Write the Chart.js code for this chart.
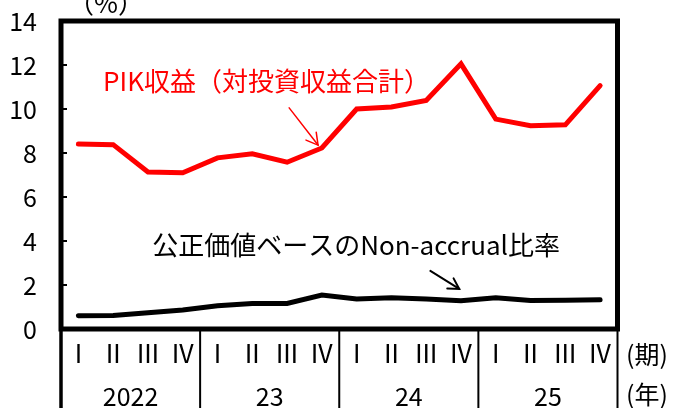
<!DOCTYPE html>
<html><head><meta charset="utf-8">
<script src="https://cdn.jsdelivr.net/npm/chart.js@4/dist/chart.umd.min.js"></script>
<style>html,body{margin:0;padding:0;background:#fff;overflow:hidden}canvas{display:block}</style>
</head><body><canvas id="c" width="674" height="408"></canvas>
<script>
const quarters = ['Ⅰ','Ⅱ','Ⅲ','Ⅳ','Ⅰ','Ⅱ','Ⅲ','Ⅳ','Ⅰ','Ⅱ','Ⅲ','Ⅳ','Ⅰ','Ⅱ','Ⅲ','Ⅳ'];
const years = ['2022','23','24','25'];
const pikRatio = [8.41,8.38,7.14,7.10, 7.78,7.96,7.58,8.23, 10.00,10.09,10.39,12.05, 9.54,9.24,9.28,11.06];
const nonAccrual = [0.60,0.61,0.74,0.86, 1.06,1.16,1.16,1.54, 1.36,1.42,1.36,1.28, 1.42,1.30,1.31,1.33];
const yTicks = [0,2,4,6,8,10,12,14];
const pikLabel = 'PIK収益（対投資収益合計）';
const naLabel = '公正価値ベースのNon-accrual比率';
const unitY = '（%）';
const unitQ = '(期)';
const unitYear = '(年)';

const FONT = "'Noto Sans CJK JP', 'Noto Sans', sans-serif";
const W = 674, H = 408;
const AREA = {left:61, right:617.5, top:21, bottom:329};

function arrow(ctx, x1, y1, x2, y2, color, lw, head) {
  ctx.save();
  ctx.strokeStyle = color; ctx.lineWidth = lw; ctx.lineCap = 'round';
  ctx.beginPath(); ctx.moveTo(x1, y1); ctx.lineTo(x2, y2); ctx.stroke();
  const a = Math.atan2(y2 - y1, x2 - x1);
  const s = 0.52;
  ctx.beginPath();
  ctx.moveTo(x2 - head * Math.cos(a - s), y2 - head * Math.sin(a - s));
  ctx.lineTo(x2, y2);
  ctx.lineTo(x2 - head * Math.cos(a + s), y2 - head * Math.sin(a + s));
  ctx.stroke();
  ctx.restore();
}

const deco = {
  id: 'deco',
  afterDraw(chart) {
    const ctx = chart.ctx, xs = chart.scales.x, ys = chart.scales.y, ca = chart.chartArea;
    ctx.save();
    ctx.strokeStyle = '#000'; ctx.lineWidth = 2;
    yTicks.forEach(v => {
      const y = ys.getPixelForValue(v);
      ctx.beginPath(); ctx.moveTo(ca.left, y); ctx.lineTo(ca.left + 6, y); ctx.stroke();
    });
    for (let i = 0; i <= years.length; i++) {
      const x = xs.getPixelForValue(i * 4 - 0.5);
      ctx.lineWidth = i === 0 ? 3.5 : 2;
      ctx.beginPath(); ctx.moveTo(x, ca.bottom); ctx.lineTo(x, H); ctx.stroke();
    }
    ctx.lineWidth = 5;
    ctx.strokeRect(ca.left, ca.top, ca.right - ca.left, ca.bottom - ca.top);
    ctx.fillStyle = '#000';
    ctx.font = '25px ' + FONT;
    ctx.textAlign = 'center'; ctx.textBaseline = 'middle';
    years.forEach((yr, i) => {
      const x = (xs.getPixelForValue(i * 4) + xs.getPixelForValue(i * 4 + 3)) / 2;
      ctx.fillText(yr, x, 396);
    });
    ctx.fillText(unitQ, 647, 354);
    ctx.fillText(unitYear, 647, 394);
    ctx.font = '26px ' + FONT;
    ctx.fillText(unitY, 106, 3);
    ctx.textAlign = 'left';
    ctx.font = '26px ' + FONT;
    ctx.fillStyle = '#ff0000';
    ctx.fillText(pikLabel, xs.getPixelForValue(0.71), ys.getPixelForValue(11.27));
    ctx.fillStyle = '#000';
    ctx.fillText(naLabel, xs.getPixelForValue(2.12), ys.getPixelForValue(3.82));
    arrow(ctx, xs.getPixelForValue(6.06), ys.getPixelForValue(10.05), xs.getPixelForValue(6.89), ys.getPixelForValue(8.36), '#ff0000', 1.5, 13);
    arrow(ctx, xs.getPixelForValue(10.12), ys.getPixelForValue(2.64), xs.getPixelForValue(10.95), ys.getPixelForValue(1.82), '#000', 2, 12);
    ctx.restore();
  }
};

new Chart(document.getElementById('c'), {
  type: 'line',
  data: {
    labels: quarters,
    datasets: [
      {data: pikRatio, borderColor: '#ff0000', borderWidth: 5, pointRadius: 0, tension: 0, borderJoinStyle: 'miter', borderCapStyle: 'round'},
      {data: nonAccrual, borderColor: '#000000', borderWidth: 5, pointRadius: 0, tension: 0, borderJoinStyle: 'miter', borderCapStyle: 'round'}
    ]
  },
  options: {
    responsive: false, animation: false, devicePixelRatio: 1,
    layout: {padding: {top: AREA.top, right: W - AREA.right, left: 0, bottom: 0}},
    plugins: {legend: {display: false}, tooltip: {enabled: false}},
    scales: {
      x: {
        offset: true,
        grid: {display: false, drawTicks: false},
        border: {display: false},
        ticks: {color: '#000', font: {family: FONT, size: 25}, padding: 9, maxRotation: 0, autoSkip: false},
        afterFit: s => { s.height = H - AREA.bottom; s.paddingLeft = 0; s.paddingRight = 0; }
      },
      y: {
        min: 0, max: 14,
        afterBuildTicks: s => { s.ticks = yTicks.map(v => ({value: v})); },
        grid: {display: false, drawTicks: false},
        border: {display: false},
        ticks: {color: '#000', font: {family: FONT, size: 25}, padding: 24},
        afterFit: s => { s.width = AREA.left; s.paddingTop = 0; s.paddingBottom = 0; }
      }
    }
  },
  plugins: [deco]
});
</script>
</body></html>
